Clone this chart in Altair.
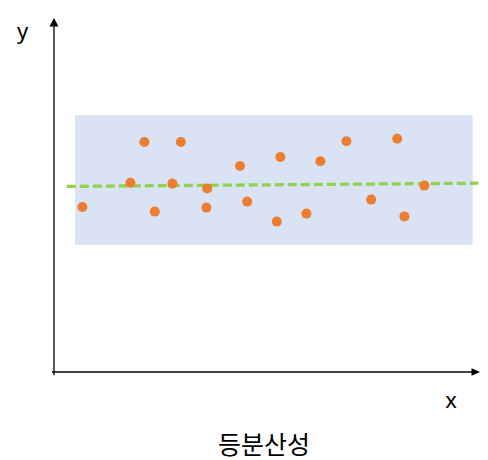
import altair as alt
import pandas as pd

# ---- data (chart units) ----
pt_x = [0.71, 1.91, 2.26, 2.52, 2.96, 3.17, 3.83, 3.81, 4.65, 4.83,
        5.66, 5.57, 6.31, 6.66, 7.31, 7.93, 8.58, 8.76, 9.26]
pt_y = [4.125, 4.73, 5.75, 4.01, 4.71, 5.75, 4.59, 4.11, 5.15, 4.26,
        5.375, 3.76, 3.96, 5.27, 5.77, 4.31, 5.83, 3.89, 4.66]

band_x = [0.525, 10.4675]
band_y = [3.175, 6.425]

trend_x = [0.32, 10.61]
trend_y = [4.64, 4.72]

x_axis_span = [-0.05, 10.55]
y_axis_span = [-0.08, 8.7]
x_tip = 10.65
y_tip = 8.85

labels = ["y", "x", "등분산성"]
label_x = [-0.7875, 9.925, 5.25]
label_y = [8.5, -0.725, -1.85]

X_DOM = [-1.15, 10.65]
Y_DOM = [-2.2, 9.1]

def X(f="x"):
    return alt.X(f"{f}:Q", scale=alt.Scale(domain=X_DOM, nice=False, zero=False), axis=None)

def Y(f="y"):
    return alt.Y(f"{f}:Q", scale=alt.Scale(domain=Y_DOM, nice=False, zero=False), axis=None)

band = alt.Chart(pd.DataFrame({"x": [band_x[0]], "x2": [band_x[1]],
                               "y": [band_y[0]], "y2": [band_y[1]]})).mark_rect(
    color="#DAE3F3", opacity=1).encode(x=X(), x2="x2:Q", y=Y(), y2="y2:Q")

trend = alt.Chart(pd.DataFrame({"x": trend_x, "y": trend_y})).mark_line(
    color="#92D050", strokeWidth=3.3, strokeDash=[9, 4]).encode(x=X(), y=Y())

points = alt.Chart(pd.DataFrame({"x": pt_x, "y": pt_y})).mark_circle(
    color="#ED7D31", size=100, opacity=1).encode(x=X(), y=Y())

xaxis = alt.Chart(pd.DataFrame({"x": [x_axis_span[0]], "x2": [x_axis_span[1]], "y": [0.0]})).mark_rule(
    color="black", strokeWidth=1.3).encode(x=X(), x2="x2:Q", y=Y())
yaxis = alt.Chart(pd.DataFrame({"x": [0.0], "y": [y_axis_span[0]], "y2": [y_axis_span[1]]})).mark_rule(
    color="black", strokeWidth=1.3).encode(x=X(), y=Y(), y2="y2:Q")

yarrow = alt.Chart(pd.DataFrame({"x": [0.0], "y": [y_tip]})).mark_point(
    shape="M0,0L0.9,1.7L-0.9,1.7Z", filled=True, size=100, color="black", opacity=1
).encode(x=X(), y=Y())
xarrow = alt.Chart(pd.DataFrame({"x": [x_tip], "y": [0.0]})).mark_point(
    shape="M0,0L-1.7,-0.75L-1.7,0.75Z", filled=True, size=100, color="black", opacity=1
).encode(x=X(), y=Y())

lab_df = pd.DataFrame({"x": label_x[:2], "y": label_y[:2], "t": labels[:2]})
axis_labels = alt.Chart(lab_df).mark_text(
    font="Noto Sans", fontSize=22, color="black", baseline="middle", align="center"
).encode(x=X(), y=Y(), text="t:N")

title_df = pd.DataFrame({"x": [label_x[2]], "y": [label_y[2]], "t": [labels[2]]})
title = alt.Chart(title_df).mark_text(
    font="Noto Sans CJK KR", fontSize=25, color="black", baseline="middle", align="center"
).encode(x=X(), y=Y(), text="t:N")

chart = alt.layer(band, trend, points, xaxis, yaxis, yarrow, xarrow, axis_labels, title).properties(
    width=472, height=452,
    autosize=alt.AutoSizeParams(type="none"),
    padding=0,
).configure_view(stroke=None)

chart.save("out.html", embed_options={"renderer": "svg", "actions": False})
